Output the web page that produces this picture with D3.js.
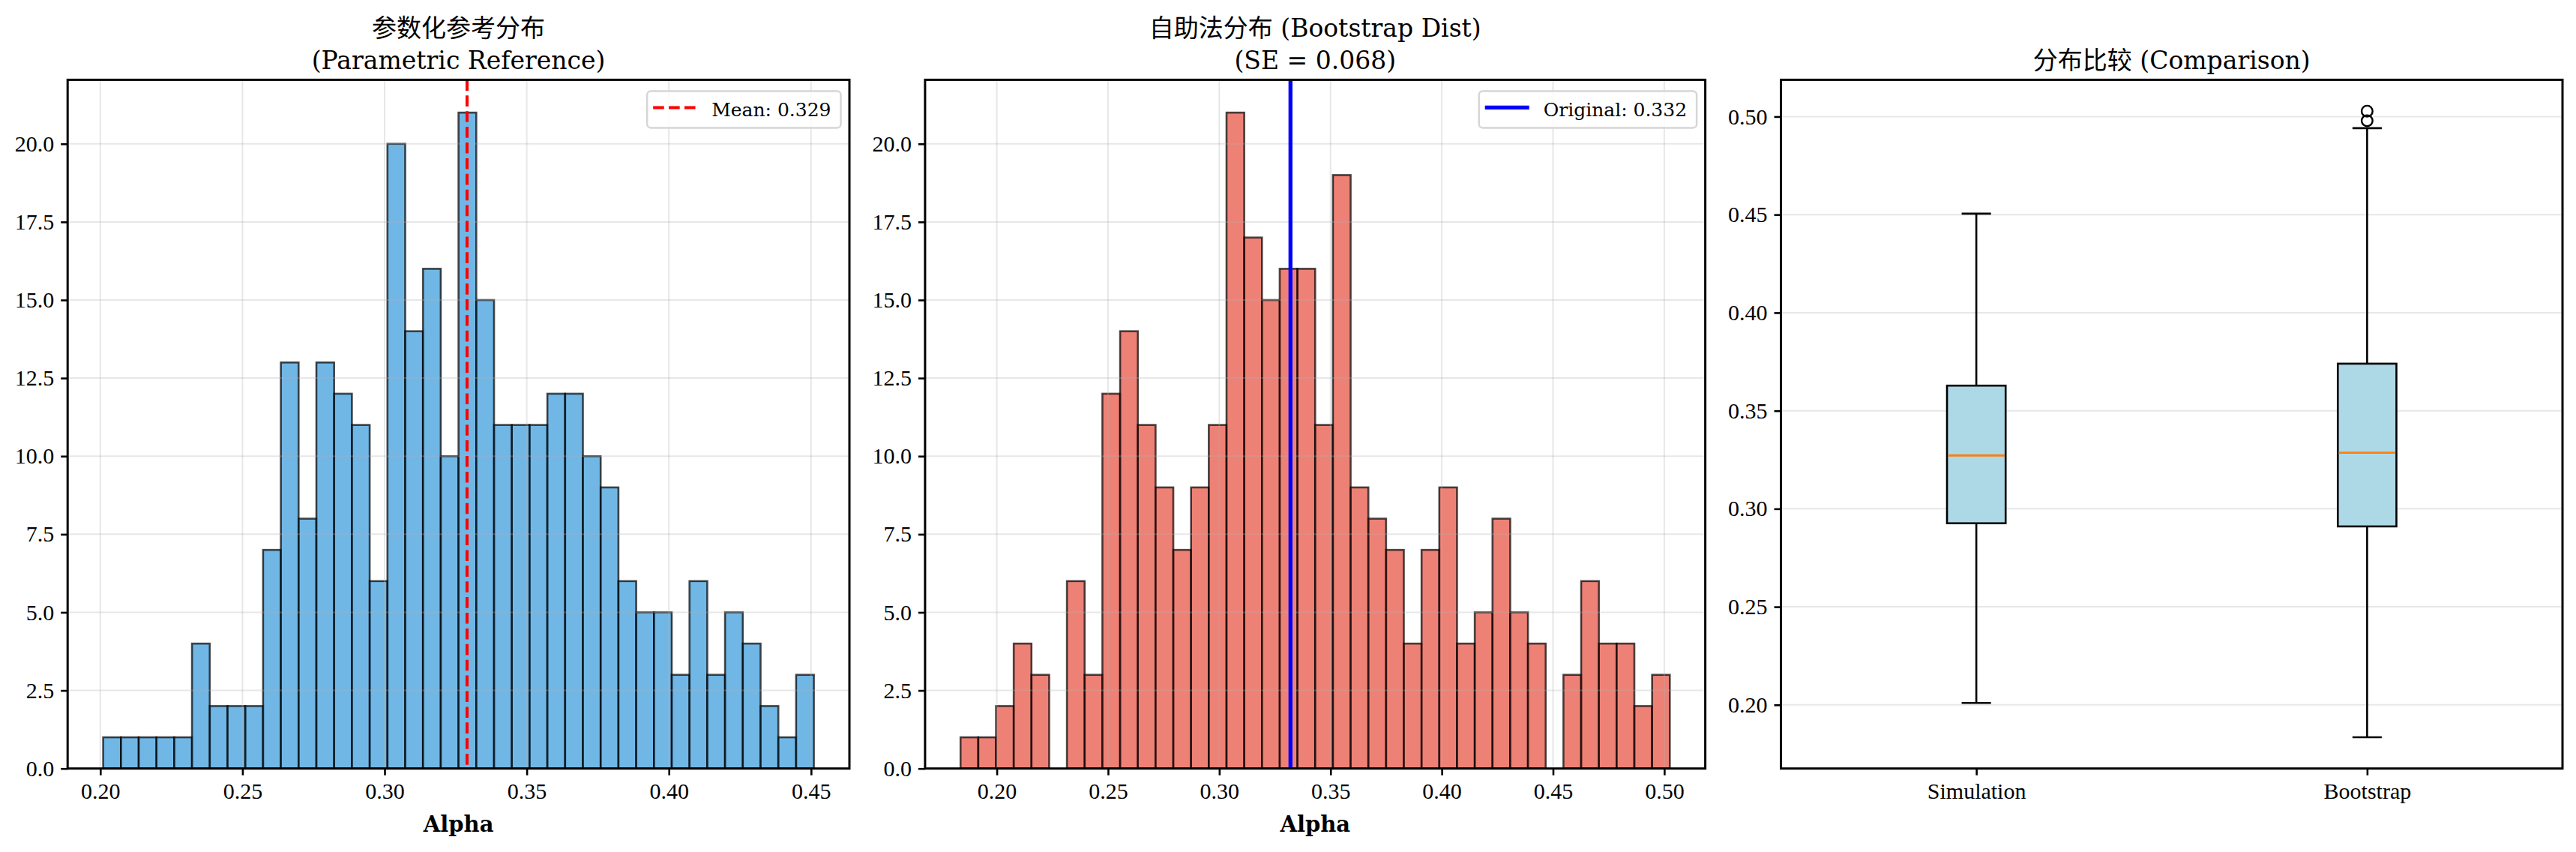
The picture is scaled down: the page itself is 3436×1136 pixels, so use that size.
<!DOCTYPE html>
<html>
<head>
<meta charset="utf-8">
<script src="https://cdn.jsdelivr.net/npm/d3@7"></script>
<style>
  html, body { margin: 0; padding: 0; background: #fff; }
  svg { display: block; }
</style>
</head>
<body>
<svg id="chart" width="3436" height="1136"></svg>
<script>
// ---- data ----
const simCounts = [1, 1, 1, 1, 1, 4, 2, 2, 2, 7, 13, 8, 13, 12, 11, 6, 20, 14, 16, 10,
                   21, 15, 11, 11, 11, 12, 12, 10, 9, 6, 5, 5, 3, 6, 3, 5, 4, 2, 1, 3];
const simBinRange = [0.2010, 0.4510];
const simMean = 0.329;

const bootCounts = [1, 1, 2, 4, 3, 0, 6, 3, 12, 14, 11, 9, 7, 9, 11, 21, 17, 15, 16, 16,
                    11, 19, 9, 8, 7, 4, 7, 9, 4, 5, 8, 5, 4, 0, 3, 6, 4, 4, 2, 3];
const bootBinRange = [0.1837, 0.5025];
const bootOriginal = 0.332;
const bootSE = 0.068;

const simXTicks = [0.20, 0.25, 0.30, 0.35, 0.40, 0.45];
const bootXTicks = [0.20, 0.25, 0.30, 0.35, 0.40, 0.45, 0.50];
const countTicks = [0, 2.5, 5, 7.5, 10, 12.5, 15, 17.5, 20];

const boxNames = ["Simulation", "Bootstrap"];
const boxLow = [0.2010, 0.1835];
const boxQ1 = [0.2926, 0.2910];
const boxMedian = [0.3272, 0.3286];
const boxQ3 = [0.3628, 0.3740];
const boxHigh = [0.4505, 0.4941];
const boxOutliers = [[], [0.4979, 0.5028]];
const boxTicks = [0.20, 0.25, 0.30, 0.35, 0.40, 0.45, 0.50];

const titles = [
    ["参数化参考分布", "(Parametric Reference)"],
    ["自助法分布 (Bootstrap Dist)", `(SE = ${bootSE.toFixed(3)})`],
    ["分布比较 (Comparison)"]
];

// ---- layout ----
const TICK_FONT = "'Liberation Serif', 'Noto Sans CJK SC', serif";
const TEXT_FONT = "'DejaVu Serif', 'Noto Sans CJK SC', serif";
const plotTop = 106.4, plotBottom = 1024.7;
const frames = [
    { left: 90.2, right: 1133 },
    { left: 1233.9, right: 2274.6 },
    { left: 2375.5, right: 3418 }
];

const svg = d3.select("#chart");

let styleAxis = (axisG) => {
    axisG.select(".domain").remove();
    axisG.selectAll(".tick line").attr("stroke", "#000").attr("stroke-width", 2.6);
    axisG.selectAll(".tick text")
        .attr("fill", "#000")
        .style("font-family", TICK_FONT)
        .style("font-size", "30px");
};

let drawFrame = (g, frame) => {
    g.append("rect")
        .attr("x", frame.left).attr("y", plotTop)
        .attr("width", frame.right - frame.left).attr("height", plotBottom - plotTop)
        .attr("fill", "none").attr("stroke", "#000").attr("stroke-width", 3);
};

let drawTitle = (g, frame, lines) => {
    const cx = (frame.left + frame.right) / 2;
    const baselines = lines.length === 2 ? [49, 92] : [92];
    lines.forEach((line, i) => {
        g.append("text")
            .attr("x", cx).attr("y", baselines[i])
            .attr("text-anchor", "middle")
            .style("font-family", TEXT_FONT)
            .style("font-size", "33px")
            .text(line);
    });
};

let drawLegend = (g, frame, label, color, dashed) => {
    const leg = g.append("g");
    const boxY = plotTop + 15;
    const box = leg.append("rect")
        .attr("y", boxY).attr("height", 49)
        .attr("rx", 5)
        .attr("fill", "#fff").attr("fill-opacity", 0.8)
        .attr("stroke", "#d6d6d6").attr("stroke-width", 2.5);
    const txt = leg.append("text")
        .attr("y", boxY + 34)
        .style("font-family", TEXT_FONT)
        .style("font-size", "25px")
        .text(label);
    const w = 86 + txt.node().getComputedTextLength() + 13;
    const x0 = frame.right - 11.5 - w;
    box.attr("x", x0).attr("width", w);
    txt.attr("x", x0 + 86);
    leg.append("line")
        .attr("x1", x0 + 8).attr("x2", x0 + 67)
        .attr("y1", boxY + 22).attr("y2", boxY + 22)
        .attr("stroke", color)
        .attr("stroke-width", dashed ? 4 : 5.3)
        .attr("stroke-dasharray", dashed ? "14.6,6.3" : null);
};

let drawHist = (g, frame, counts, binRange, xTicks, fill, refValue, refColor, dashed, legendLabel) => {
    const n = counts.length;
    const step = (binRange[1] - binRange[0]) / n;
    const bins = counts.map((c, i) => ({ x0: binRange[0] + i * step, x1: binRange[0] + (i + 1) * step, count: c }));
    const pad = (binRange[1] - binRange[0]) * 0.05;

    const x = d3.scaleLinear().domain([binRange[0] - pad, binRange[1] + pad]).range([frame.left, frame.right]);
    const y = d3.scaleLinear().domain([0, d3.max(counts) * 1.05]).range([plotBottom, plotTop]);

    // bars
    g.append("g").selectAll(".bar")
        .data(bins.filter(d => d.count > 0))
        .enter()
        .append("rect")
        .attr("class", "bar")
        .attr("x", d => x(d.x0))
        .attr("y", d => y(d.count))
        .attr("width", d => x(d.x1) - x(d.x0))
        .attr("height", d => y(0) - y(d.count))
        .attr("fill", fill).attr("fill-opacity", 0.7)
        .attr("stroke", "#000").attr("stroke-opacity", 0.7).attr("stroke-width", 2.6);

    // grid (drawn over the bars, faint)
    const grid = g.append("g").attr("stroke", "#b0b0b0").attr("stroke-opacity", 0.3).attr("stroke-width", 2);
    grid.selectAll(".gx").data(xTicks).enter().append("line")
        .attr("x1", d => x(d)).attr("x2", d => x(d))
        .attr("y1", plotTop).attr("y2", plotBottom);
    grid.selectAll(".gy").data(countTicks).enter().append("line")
        .attr("x1", frame.left).attr("x2", frame.right)
        .attr("y1", d => y(d)).attr("y2", d => y(d));

    // reference line
    g.append("line")
        .attr("x1", x(refValue)).attr("x2", x(refValue))
        .attr("y1", plotTop).attr("y2", plotBottom)
        .attr("stroke", refColor)
        .attr("stroke-width", dashed ? 4 : 5.3)
        .attr("stroke-dasharray", dashed ? "14.6,6.3" : null);

    // axes
    const xAxis = g.append("g").attr("transform", `translate(0,${plotBottom})`)
        .call(d3.axisBottom(x).tickValues(xTicks).tickFormat(d3.format(".2f")).tickSizeOuter(0).tickSize(9).tickPadding(10));
    styleAxis(xAxis);
    const yAxis = g.append("g").attr("transform", `translate(${frame.left},0)`)
        .call(d3.axisLeft(y).tickValues(countTicks).tickFormat(d3.format(".1f")).tickSizeOuter(0).tickSize(9).tickPadding(9));
    styleAxis(yAxis);

    drawFrame(g, frame);

    g.append("text")
        .attr("x", (frame.left + frame.right) / 2).attr("y", 1109)
        .attr("text-anchor", "middle")
        .style("font-family", TEXT_FONT)
        .style("font-size", "29px")
        .style("font-weight", "bold")
        .text("Alpha");

    drawLegend(g, frame, legendLabel, refColor, dashed);
};

let drawBox = (g, frame) => {
    const allValues = boxLow.concat(boxHigh, ...boxOutliers);
    const lo = d3.min(allValues), hi = d3.max(allValues);
    const pad = (hi - lo) * 0.05;
    const y = d3.scaleLinear().domain([lo - pad, hi + pad]).range([plotBottom, plotTop]);
    const x = d3.scalePoint().domain(boxNames).range([frame.left, frame.right]).padding(0.5);
    const half = x.step() * 0.15 / 2;
    const capHalf = half / 2;

    // grid (y only)
    g.append("g").attr("stroke", "#b0b0b0").attr("stroke-opacity", 0.3).attr("stroke-width", 2)
        .selectAll("line").data(boxTicks).enter().append("line")
        .attr("x1", frame.left).attr("x2", frame.right)
        .attr("y1", d => y(d)).attr("y2", d => y(d));

    const boxes = g.append("g").selectAll(".box")
        .data(boxNames.map((name, i) => ({
            name, low: boxLow[i], q1: boxQ1[i], med: boxMedian[i], q3: boxQ3[i], high: boxHigh[i], out: boxOutliers[i]
        })))
        .enter().append("g").attr("class", "box");

    // whiskers
    boxes.append("line")
        .attr("x1", d => x(d.name)).attr("x2", d => x(d.name))
        .attr("y1", d => y(d.q3)).attr("y2", d => y(d.high))
        .attr("stroke", "#000").attr("stroke-width", 2.6);
    boxes.append("line")
        .attr("x1", d => x(d.name)).attr("x2", d => x(d.name))
        .attr("y1", d => y(d.q1)).attr("y2", d => y(d.low))
        .attr("stroke", "#000").attr("stroke-width", 2.6);
    // caps
    ["high", "low"].forEach(key => {
        boxes.append("line")
            .attr("x1", d => x(d.name) - capHalf).attr("x2", d => x(d.name) + capHalf)
            .attr("y1", d => y(d[key])).attr("y2", d => y(d[key]))
            .attr("stroke", "#000").attr("stroke-width", 2.6);
    });
    // box
    boxes.append("rect")
        .attr("x", d => x(d.name) - half)
        .attr("width", half * 2)
        .attr("y", d => y(d.q3))
        .attr("height", d => y(d.q1) - y(d.q3))
        .attr("fill", "#add8e6")
        .attr("stroke", "#000").attr("stroke-width", 2.6);
    // median
    boxes.append("line")
        .attr("x1", d => x(d.name) - half + 1.3).attr("x2", d => x(d.name) + half - 1.3)
        .attr("y1", d => y(d.med)).attr("y2", d => y(d.med))
        .attr("stroke", "#ff7f0e").attr("stroke-width", 2.8);
    // outliers
    boxes.each(function(d) {
        d3.select(this).selectAll(".flier")
            .data(d.out)
            .enter().append("circle")
            .attr("class", "flier")
            .attr("cx", x(d.name))
            .attr("cy", v => y(v))
            .attr("r", 7.3)
            .attr("fill", "none").attr("stroke", "#000").attr("stroke-width", 2.4);
    });

    const xAxis = g.append("g").attr("transform", `translate(0,${plotBottom})`)
        .call(d3.axisBottom(x).tickSizeOuter(0).tickSize(9).tickPadding(10));
    styleAxis(xAxis);
    const yAxis = g.append("g").attr("transform", `translate(${frame.left},0)`)
        .call(d3.axisLeft(y).tickValues(boxTicks).tickFormat(d3.format(".2f")).tickSizeOuter(0).tickSize(9).tickPadding(9));
    styleAxis(yAxis);

    drawFrame(g, frame);
};

const g1 = svg.append("g");
drawHist(g1, frames[0], simCounts, simBinRange, simXTicks, "#3498db", simMean, "#ff0000", true,
    `Mean: ${simMean.toFixed(3)}`);
drawTitle(g1, frames[0], titles[0]);

const g2 = svg.append("g");
drawHist(g2, frames[1], bootCounts, bootBinRange, bootXTicks, "#e74c3c", bootOriginal, "#0000ff", false,
    `Original: ${bootOriginal.toFixed(3)}`);
drawTitle(g2, frames[1], titles[1]);

const g3 = svg.append("g");
drawBox(g3, frames[2]);
drawTitle(g3, frames[2], titles[2]);
</script>
</body>
</html>
